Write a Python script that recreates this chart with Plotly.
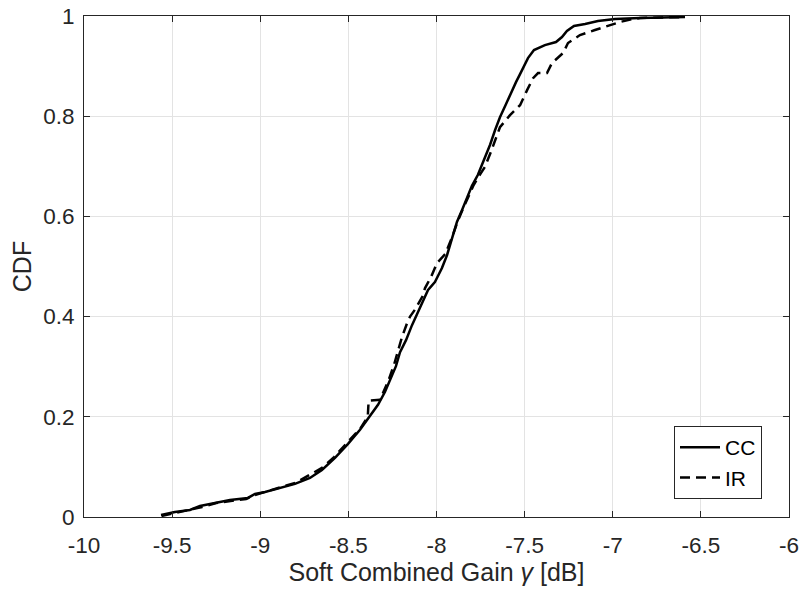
import plotly.graph_objects as go

# Empirical CDF of the soft combined gain (dB) for chase combining (CC)
cc_gain = [-9.563, -9.484, -9.399, -9.342, -9.257, -9.172, -9.070, -9.030, -8.973, -8.888,
           -8.803, -8.718, -8.650, -8.576, -8.502, -8.434, -8.377, -8.332, -8.292, -8.264,
           -8.230, -8.207, -8.173, -8.139, -8.105, -8.077, -8.048, -8.009, -7.969, -7.940,
           -7.912, -7.884, -7.855, -7.827, -7.799, -7.765, -7.730, -7.696, -7.668, -7.640,
           -7.606, -7.577, -7.549, -7.526, -7.504, -7.481, -7.447, -7.385, -7.322, -7.288,
           -7.260, -7.220, -7.157, -7.084, -6.987, -6.845, -6.590]
cc_cdf = [0.004, 0.010, 0.014, 0.022, 0.028, 0.034, 0.038, 0.046, 0.050, 0.058,
          0.066, 0.078, 0.094, 0.118, 0.146, 0.174, 0.202, 0.224, 0.250, 0.273,
          0.301, 0.329, 0.353, 0.383, 0.409, 0.433, 0.453, 0.469, 0.497, 0.523,
          0.557, 0.589, 0.613, 0.637, 0.661, 0.683, 0.713, 0.743, 0.772, 0.798,
          0.824, 0.848, 0.868, 0.884, 0.900, 0.916, 0.932, 0.942, 0.948, 0.958,
          0.970, 0.980, 0.984, 0.990, 0.994, 0.996, 0.998]

# Empirical CDF for incremental redundancy (IR)
ir_gain = [-9.560, -9.480, -9.400, -9.330, -9.250, -9.170, -9.080, -9.030, -8.960, -8.880,
           -8.800, -8.720, -8.650, -8.580, -8.500, -8.430, -8.390, -8.385, -8.320, -8.300,
           -8.270, -8.240, -8.220, -8.196, -8.167, -8.150, -8.120, -8.080, -8.065, -8.030,
           -7.997, -7.950, -7.910, -7.880, -7.850, -7.820, -7.790, -7.760, -7.725, -7.690,
           -7.665, -7.640, -7.583, -7.526, -7.486, -7.452, -7.424, -7.373, -7.345, -7.282,
           -7.254, -7.186, -7.101, -7.016, -6.959, -6.885, -6.845, -6.590]
ir_cdf = [0.002, 0.008, 0.014, 0.020, 0.028, 0.032, 0.036, 0.044, 0.052, 0.060,
          0.068, 0.084, 0.098, 0.120, 0.150, 0.178, 0.200, 0.232, 0.234, 0.250,
          0.275, 0.305, 0.330, 0.359, 0.387, 0.400, 0.415, 0.440, 0.457, 0.480,
          0.507, 0.525, 0.560, 0.590, 0.615, 0.640, 0.662, 0.680, 0.699, 0.730,
          0.755, 0.778, 0.802, 0.822, 0.852, 0.876, 0.886, 0.886, 0.906, 0.926,
          0.946, 0.962, 0.972, 0.982, 0.988, 0.994, 0.996, 0.998]

x_ticks = [-10, -9.5, -9, -8.5, -8, -7.5, -7, -6.5, -6]
x_tick_text = ["-10", "-9.5", "-9", "-8.5", "-8", "-7.5", "-7", "-6.5", "-6"]
y_ticks = [0, 0.2, 0.4, 0.6, 0.8, 1]
y_tick_text = ["0", "0.2", "0.4", "0.6", "0.8", "1"]

FONT = "Liberation Sans, Arial, Helvetica, sans-serif"
AX = "#262626"
GRID = "#e3e3e3"
TICK_SIZE = 22.5
LABEL_SIZE = 25

fig = go.Figure()
fig.add_trace(go.Scatter(x=cc_gain, y=cc_cdf, mode="lines", name="CC",
                         line=dict(color="black", width=2.5)))
fig.add_trace(go.Scatter(x=ir_gain, y=ir_cdf, mode="lines", name="IR",
                         line=dict(color="black", width=2.5, dash="10px,6px")))

axis_common = dict(
    showline=True, linecolor=AX, linewidth=1, mirror="ticks",
    ticks="inside", ticklen=6, tickcolor=AX, tickwidth=1,
    showgrid=True, gridcolor=GRID, gridwidth=1, zeroline=False,
    tickfont=dict(family=FONT, size=TICK_SIZE, color=AX),
    automargin=False,
)

fig.update_layout(
    width=803, height=592,
    margin=dict(l=84, r=14, t=16, b=75),
    paper_bgcolor="white", plot_bgcolor="white",
    xaxis=dict(range=[-10, -6], tickvals=x_ticks, ticktext=x_tick_text,
               ticklabelstandoff=8,
               title=dict(text="Soft Combined Gain <i>γ</i> [dB]",
                          font=dict(family=FONT, size=LABEL_SIZE, color=AX), standoff=0),
               **axis_common),
    yaxis=dict(range=[0, 1], tickvals=y_ticks, ticktext=y_tick_text,
               ticklabelstandoff=4,
               title=dict(text="CDF", font=dict(family=FONT, size=LABEL_SIZE, color=AX), standoff=4),
               **axis_common),
    legend=dict(x=678 / 705, xanchor="right", y=(517 - 499) / 501, yanchor="bottom",
                bgcolor="white", bordercolor=AX, borderwidth=1,
                font=dict(family=FONT, size=21, color="black"),
                itemwidth=40, tracegroupgap=0),
    showlegend=True,
)

fig.write_html("out.html")
